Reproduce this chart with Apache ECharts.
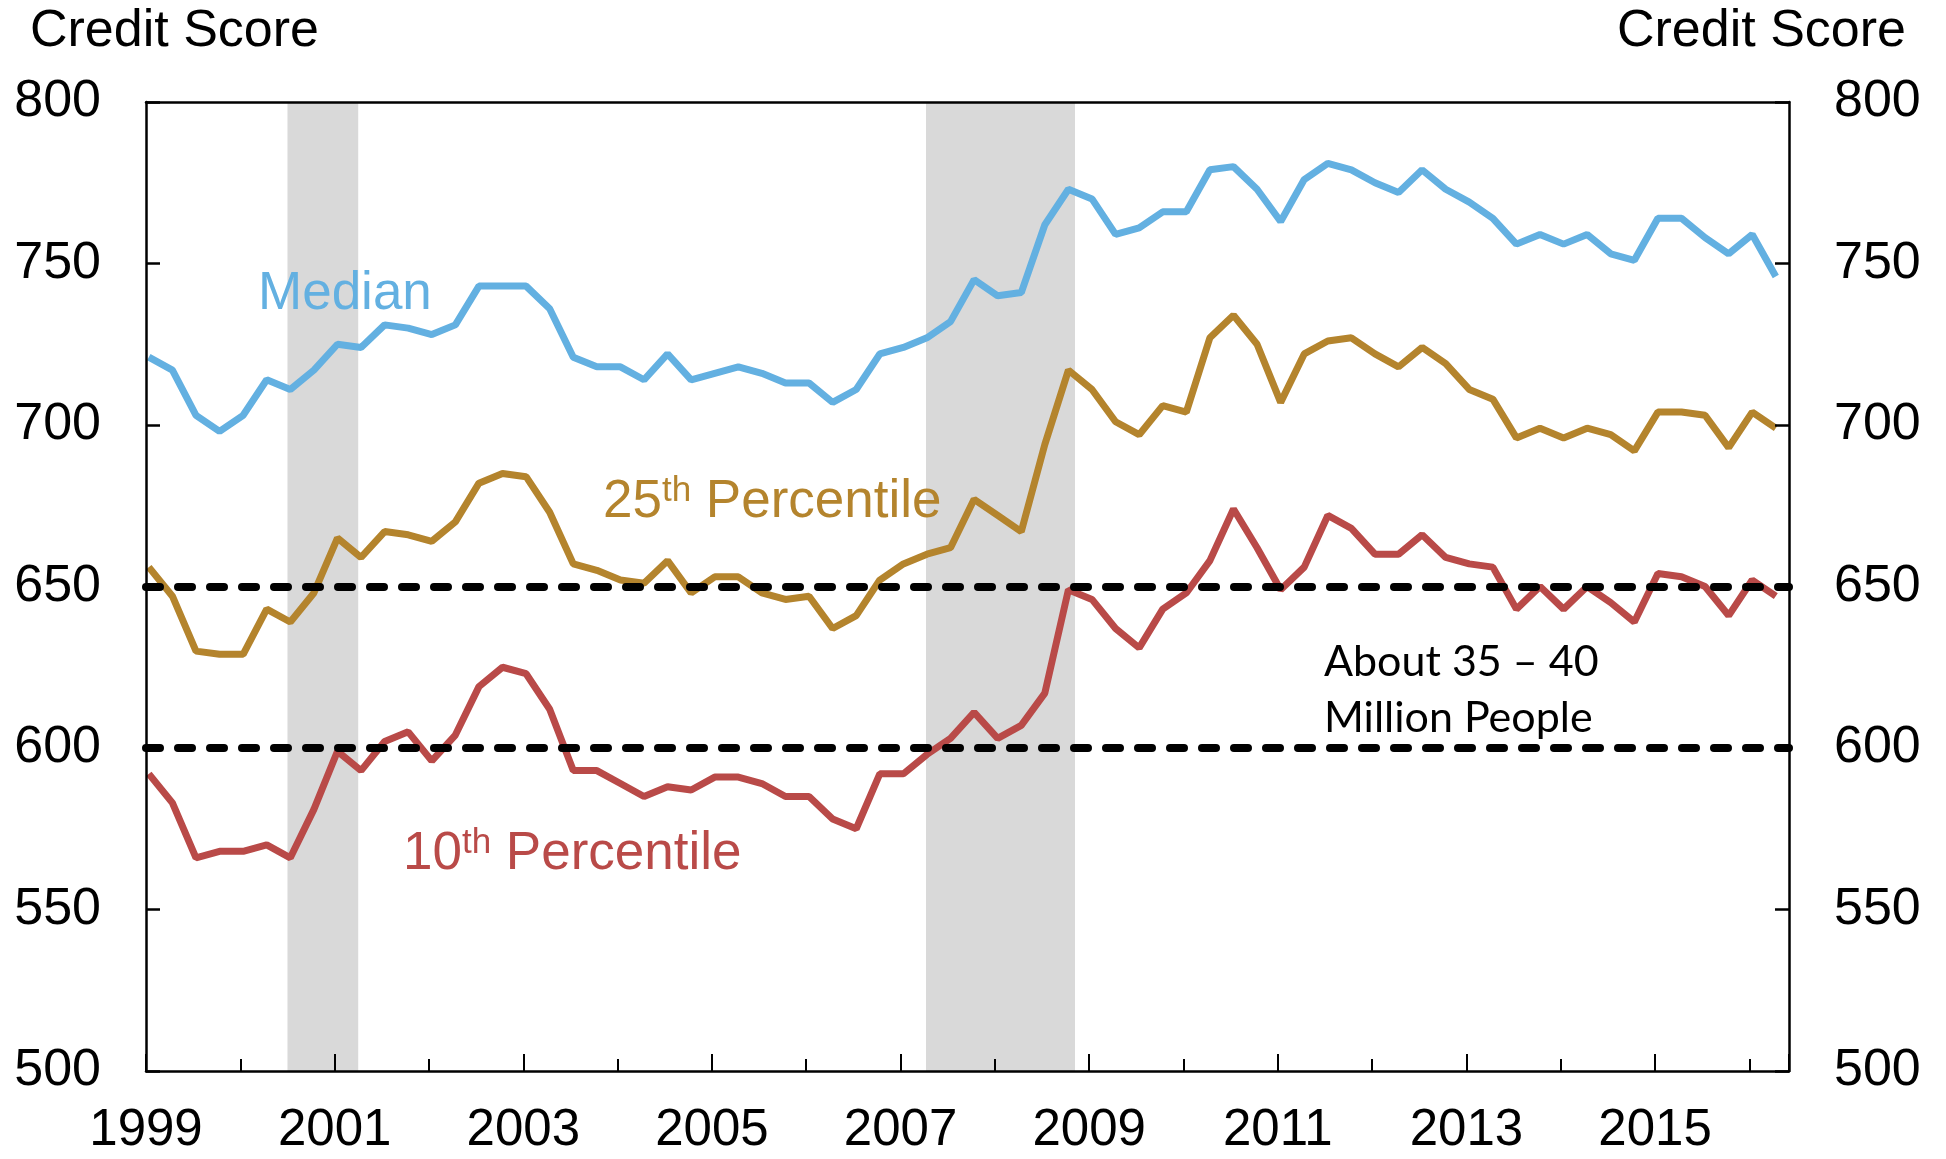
<!DOCTYPE html>
<html>
<head>
<meta charset="utf-8">
<script src="https://cdn.jsdelivr.net/npm/echarts@6/dist/echarts.min.js"></script>
<style>
  html, body { margin: 0; padding: 0; background: #fff; }
  #main { width: 1946px; height: 1159px; }
</style>
</head>
<body>
<div id="main"></div>
<script>
// quarterly, 1999Q1 .. 2016Q2
const startYear = 1999.03;
const median = [721, 717, 703, 698, 703, 714, 711, 717, 725, 724, 731, 730, 728, 731, 743, 743, 743, 736,
  721, 718, 718, 714, 722, 714, 716, 718, 716, 713, 713, 707, 711, 722, 724, 727, 732, 745,
  740, 741, 762, 773, 770, 759, 761, 766, 766, 779, 780, 773, 763, 776, 781, 779, 775, 772,
  779, 773, 769, 764, 756, 759, 756, 759, 753, 751, 764, 764, 758, 753, 759, 746];
const p25 = [656, 647, 630, 629, 629, 643, 639, 648, 665, 659, 667, 666, 664, 670, 682, 685, 684, 673,
  657, 655, 652, 651, 658, 648, 653, 653, 648, 646, 647, 637, 641, 652, 657, 660, 662, 677,
  672, 667, 694, 717, 711, 701, 697, 706, 704, 727, 734, 725, 707, 722, 726, 727, 722, 718,
  724, 719, 711, 708, 696, 699, 696, 699, 697, 692, 704, 704, 703, 693, 704, 699];
const p10 = [592, 583, 566, 568, 568, 570, 566, 581, 599, 593, 602, 605, 596, 604, 619, 625, 623, 612,
  593, 593, 589, 585, 588, 587, 591, 591, 589, 585, 585, 578, 575, 592, 592, 598, 603, 611,
  603, 607, 617, 649, 646, 637, 631, 643, 648, 658, 674, 662, 649, 656, 672, 668, 660, 660,
  666, 659, 657, 656, 643, 650, 643, 650, 645, 639, 654, 653, 650, 641, 652, 647];
const recessions = [[2000.5, 2001.25], [2007.27, 2008.85]];
const thresholds = [650, 600];
const yTicks = [500, 550, 600, 650, 700, 750, 800];

const toPairs = arr => arr.map((v, i) => [startYear + i * 0.25, v]);

const FONT = 'Liberation Sans, Arial, sans-serif';
const chart = echarts.init(document.getElementById('main'));

const yAxisBase = {
  type: 'value',
  min: yTicks[0],
  max: yTicks[yTicks.length - 1],
  interval: 50,
  z: 10,
  axisLine: { show: true, lineStyle: { color: '#000', width: 2.5 } },
  axisTick: { show: true, inside: true, length: 14, lineStyle: { color: '#000', width: 2.5 } },
  axisLabel: { color: '#000', fontSize: 52, fontFamily: FONT, margin: 45 },
  splitLine: { show: false }
};

chart.setOption({
  animation: false,
  backgroundColor: '#fff',
  grid: { left: 146, right: 157, top: 102, bottom: 88 },
  xAxis: [{
    type: 'value',
    min: 1999,
    max: 2016.42,
    interval: 2,
    z: 10,
    axisLine: { show: true, onZero: false, lineStyle: { color: '#000', width: 2.5 } },
    axisTick: { show: true, inside: true, length: 17, lineStyle: { color: '#000', width: 2 } },
    minorTick: { show: true, splitNumber: 2, length: 12, lineStyle: { color: '#000', width: 2 } },
    axisLabel: {
      color: '#000', fontSize: 51, fontFamily: FONT, margin: 34,
      showMaxLabel: false,
      formatter: v => String(Math.round(v))
    },
    splitLine: { show: false }
  }, {
    type: 'value',
    position: 'top',
    min: 1999,
    max: 2016.42,
    z: 10,
    axisLine: { show: true, onZero: false, lineStyle: { color: '#000', width: 2.5 } },
    axisTick: { show: false },
    axisLabel: { show: false },
    splitLine: { show: false }
  }],
  yAxis: [
    Object.assign({}, yAxisBase, { position: 'left' }),
    Object.assign({}, yAxisBase, { position: 'right' })
  ],
  series: [
    {
      name: 'Median',
      type: 'line',
      data: toPairs(median),
      symbol: 'none',
      lineStyle: { color: '#63B0E1', width: 7 },
      z: 3,
      markArea: {
        silent: true,
        itemStyle: { color: '#D9D9D9' },
        data: recessions.map(r => [{ xAxis: r[0] }, { xAxis: r[1] }])
      }
    },
    {
      name: '25th Percentile',
      type: 'line',
      data: toPairs(p25),
      symbol: 'none',
      lineStyle: { color: '#B4842D', width: 7 },
      z: 3
    },
    {
      name: '10th Percentile',
      type: 'line',
      data: toPairs(p10),
      symbol: 'none',
      lineStyle: { color: '#B94A48', width: 7 },
      z: 4,
      markLine: {
        silent: true,
        symbol: 'none',
        label: { show: false },
        lineStyle: { color: '#000', width: 8, type: [14, 18], cap: 'round' },
        data: thresholds.map(t => ({ yAxis: t }))
      }
    }
  ],
  graphic: [
    { type: 'text', z: 100, left: 30, top: 6, style: { text: 'Credit Score', fontSize: 52, fontFamily: FONT, fill: '#000' } },
    { type: 'text', z: 100, right: 40, top: 6, style: { text: 'Credit Score', fontSize: 52, fontFamily: FONT, fill: '#000' } },
    { type: 'text', z: 100, x: 258, y: 294, style: { text: 'Median', fontSize: 53, fontFamily: FONT, fill: '#63B0E1', verticalAlign: 'middle' } },
    {
      type: 'text', z: 100, x: 603, y: 502,
      style: {
        text: '{n|25}{s|th}{n| Percentile}',
        verticalAlign: 'middle',
        rich: {
          n: { fontSize: 53, fontFamily: FONT, fill: '#B4842D', color: '#B4842D' },
          s: { fontSize: 35, fontFamily: FONT, fill: '#B4842D', color: '#B4842D', verticalAlign: 'top', padding: [0, 0, 22, 0] }
        }
      }
    },
    {
      type: 'text', z: 100, x: 403, y: 854,
      style: {
        text: '{n|10}{s|th}{n| Percentile}',
        verticalAlign: 'middle',
        rich: {
          n: { fontSize: 53, fontFamily: FONT, fill: '#B94A48', color: '#B94A48' },
          s: { fontSize: 35, fontFamily: FONT, fill: '#B94A48', color: '#B94A48', verticalAlign: 'top', padding: [0, 0, 22, 0] }
        }
      }
    },
    {
      type: 'text', z: 100, x: 1324, y: 690,
      style: {
        text: 'About 35 \u2013 40\nMillion People',
        fontSize: 43, fontFamily: 'Lato, Open Sans, sans-serif', fill: '#000',
        lineHeight: 56, verticalAlign: 'middle'
      }
    }
  ]
});
</script>
</body>
</html>
